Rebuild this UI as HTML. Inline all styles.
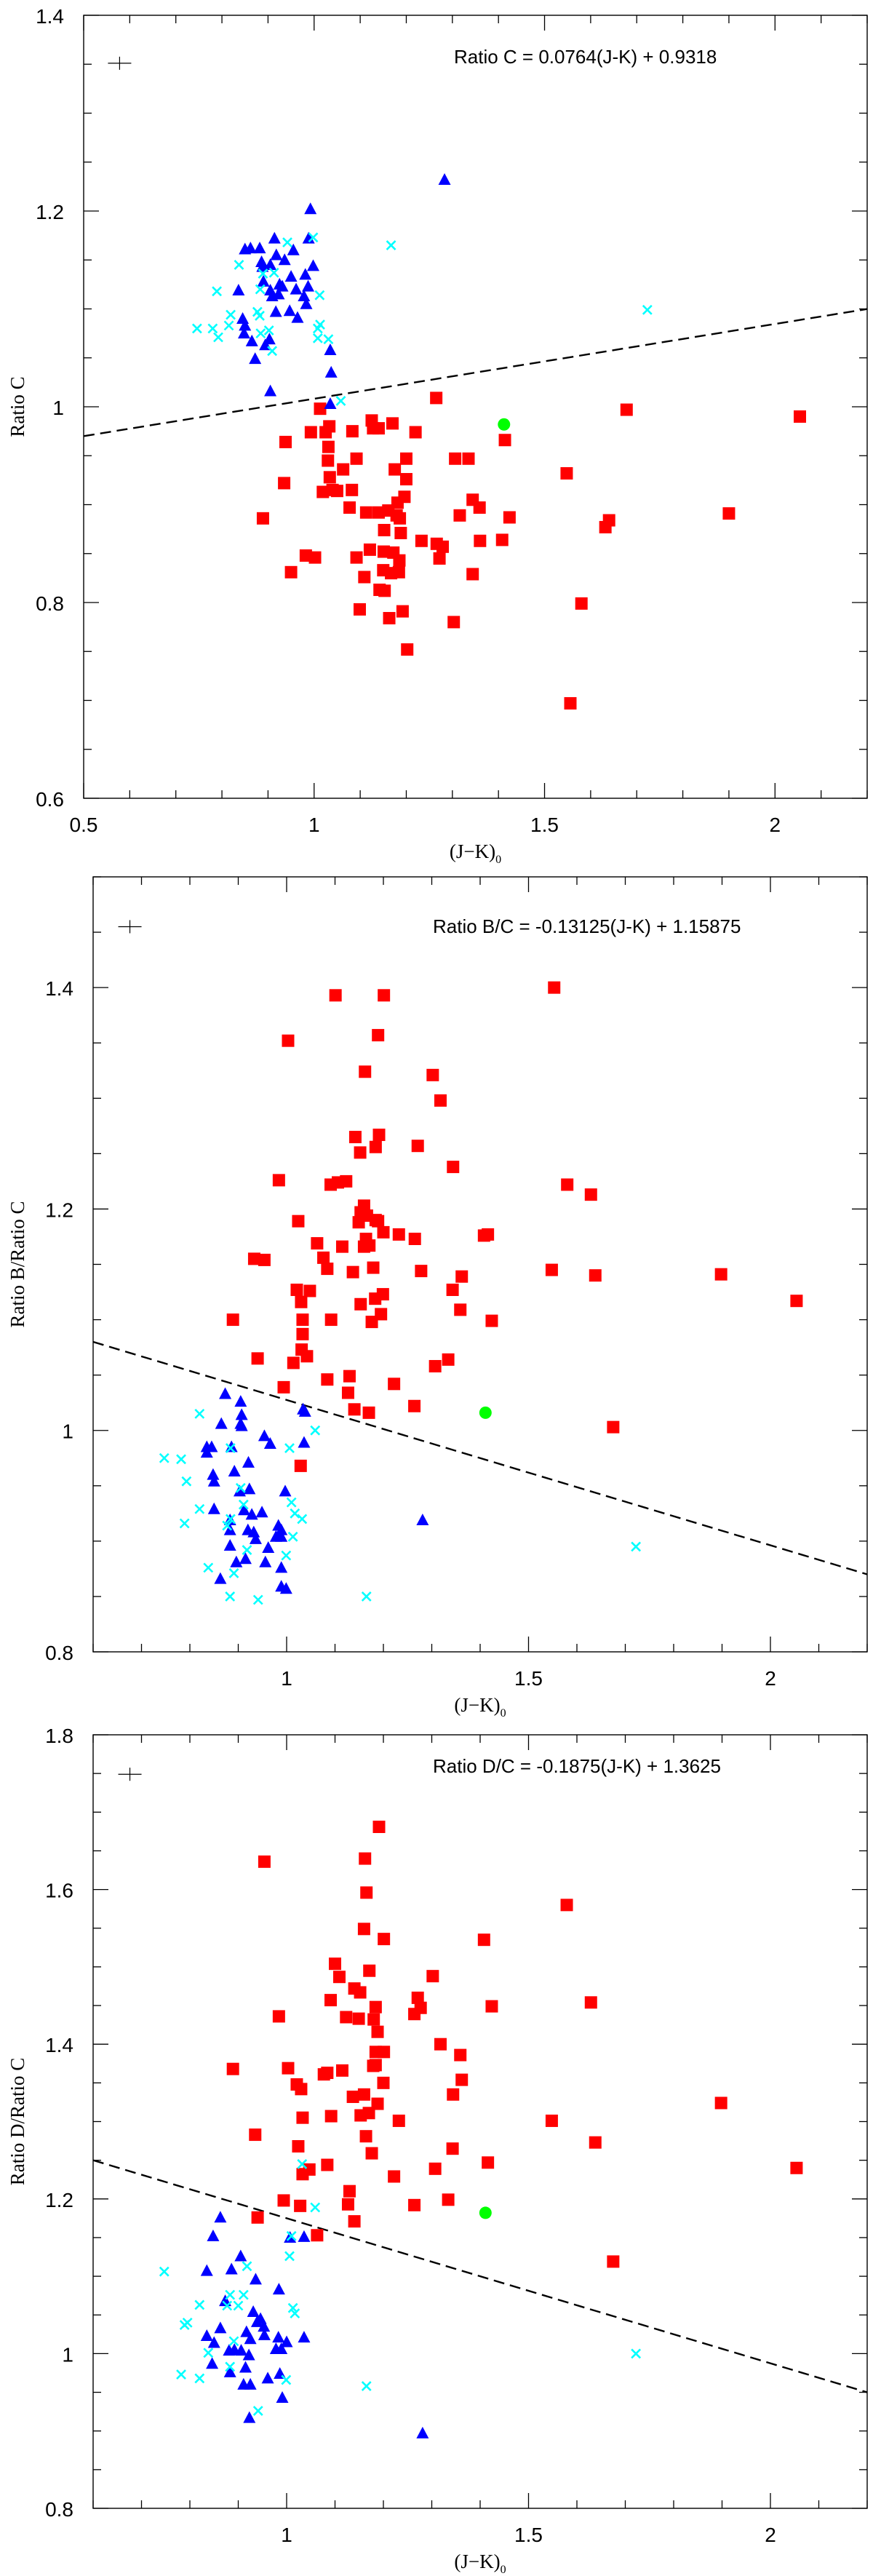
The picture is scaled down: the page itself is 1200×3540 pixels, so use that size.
<!DOCTYPE html>
<html><head><meta charset="utf-8"><style>
html,body{margin:0;padding:0;background:#fff}
svg{display:block}
</style></head><body>
<svg id="fig" width="1200" height="3540" viewBox="0 0 1200 3540" xmlns="http://www.w3.org/2000/svg"></svg>
<script>
// ---------- Panel 1: Ratio C ----------
const p1RedX=[1.013,1.265,1.678,2.054,0.993,1.033,1.025,1.083,1.125,1.128,1.140,1.170,1.220,1.414,0.938,1.031,1.030,1.092,1.200,1.306,1.335,1.063,1.175,1.548,0.935,1.034,1.200,1.019,1.040,1.050,1.082,1.196,1.181,1.344,1.359,1.077,1.113,1.140,1.161,1.179,1.186,1.316,1.424,1.640,1.632,1.900,0.889,1.188,1.152,1.233,1.266,1.279,1.360,1.408,1.121,1.151,1.172,1.185,0.982,1.002,1.092,1.272,0.950,1.109,1.150,1.167,1.184,1.344,1.142,1.153,1.580,1.099,1.192,1.163,1.303,1.202,1.556];
const p1RedY=[0.998,1.009,0.997,0.990,0.974,0.980,0.974,0.975,0.986,0.978,0.978,0.983,0.974,0.966,0.964,0.959,0.945,0.947,0.947,0.947,0.947,0.936,0.936,0.932,0.922,0.928,0.926,0.913,0.915,0.914,0.915,0.908,0.902,0.905,0.897,0.897,0.892,0.892,0.894,0.889,0.886,0.889,0.887,0.884,0.877,0.891,0.886,0.871,0.874,0.863,0.860,0.857,0.863,0.864,0.854,0.852,0.851,0.843,0.848,0.846,0.846,0.845,0.831,0.826,0.833,0.830,0.831,0.829,0.813,0.812,0.799,0.793,0.791,0.784,0.780,0.752,0.697];
const p1BlueX=[1.283,0.992,0.988,0.914,0.850,0.862,0.882,0.955,0.918,0.936,0.886,0.888,0.998,0.905,0.950,0.981,0.890,0.925,0.931,0.905,0.836,0.987,0.961,0.978,0.909,0.923,0.917,0.947,0.964,0.983,0.845,0.850,0.848,0.865,0.903,0.894,1.035,0.872,1.037,0.905,1.035];
const p1BlueY=[1.232,1.202,1.172,1.172,1.161,1.162,1.162,1.160,1.155,1.150,1.148,1.143,1.144,1.145,1.133,1.135,1.128,1.125,1.123,1.119,1.119,1.123,1.120,1.113,1.113,1.115,1.097,1.098,1.091,1.105,1.090,1.083,1.075,1.067,1.069,1.063,1.058,1.049,1.035,1.016,1.003];
const p1CyanX=[0.998,0.942,1.167,0.837,0.889,0.913,1.012,0.789,0.883,0.819,0.877,0.882,1.723,0.746,0.780,0.792,0.815,0.884,0.902,1.013,1.008,1.008,1.031,0.909,1.058];
const p1CyanY=[1.173,1.168,1.165,1.145,1.136,1.137,1.114,1.118,1.120,1.094,1.097,1.093,1.099,1.080,1.080,1.071,1.083,1.075,1.078,1.084,1.080,1.070,1.069,1.057,1.006];
const p1GreenX=[1.412];
const p1GreenY=[0.982];
const p1Fit=[0.0764,0.9318];
const p1YTicks=["0.6","0.8","1","1.2","1.4"];
const p1XTicks=["0.5","1","1.5","2"];

// ---------- Panel 2: Ratio B / Ratio C ----------
const p2RedX=[1.553,1.101,1.201,1.003,1.189,1.162,1.302,1.318,1.142,1.191,1.152,1.184,1.271,1.344,0.984,1.091,1.106,1.123,1.580,1.629,1.024,1.160,1.153,1.166,1.149,1.184,1.189,1.200,1.232,1.265,1.408,1.416,1.063,1.115,1.164,1.160,1.171,1.076,0.933,0.954,1.084,1.137,1.179,1.278,1.548,1.638,1.362,1.898,1.021,1.048,1.343,1.183,1.199,1.153,1.030,2.054,1.359,0.889,1.033,1.092,1.195,1.176,1.424,1.033,1.031,1.042,0.940,1.014,1.307,1.334,1.130,1.084,1.222,0.994,1.127,1.264,1.140,1.170,1.675,1.029];
const p2RedY=[1.400,1.393,1.393,1.352,1.357,1.324,1.321,1.298,1.265,1.267,1.251,1.256,1.257,1.238,1.226,1.222,1.224,1.225,1.222,1.213,1.189,1.203,1.197,1.194,1.188,1.190,1.189,1.179,1.177,1.173,1.176,1.177,1.169,1.166,1.173,1.166,1.167,1.156,1.155,1.154,1.146,1.143,1.147,1.144,1.145,1.140,1.139,1.141,1.127,1.126,1.127,1.119,1.123,1.114,1.116,1.117,1.109,1.100,1.100,1.100,1.105,1.098,1.099,1.087,1.073,1.067,1.065,1.061,1.058,1.064,1.049,1.046,1.042,1.039,1.034,1.022,1.019,1.016,1.003,0.968];
const p2BlueX=[0.873,0.905,1.034,1.038,0.907,0.905,0.907,0.865,0.954,0.966,1.036,0.835,0.845,0.835,0.886,0.921,0.892,0.848,0.850,0.923,0.903,0.997,0.850,0.949,0.912,0.928,0.983,0.989,0.883,0.883,0.920,0.932,0.936,0.978,0.989,0.883,0.962,0.915,0.896,0.956,0.989,0.863,0.989,0.999,1.281];
const p2BlueY=[1.033,1.026,1.019,1.017,1.014,1.006,1.004,1.006,0.995,0.988,0.989,0.985,0.985,0.980,0.985,0.971,0.963,0.960,0.954,0.947,0.945,0.945,0.929,0.926,0.928,0.924,0.914,0.910,0.919,0.910,0.910,0.908,0.902,0.904,0.904,0.896,0.894,0.884,0.881,0.881,0.876,0.866,0.859,0.857,0.919];
const p2CyanX=[0.820,1.059,0.884,1.006,0.747,0.782,0.793,0.905,1.010,0.911,0.820,1.017,1.032,0.789,0.877,0.884,1.013,0.918,1.722,0.999,0.838,0.891,0.883,0.941,1.165];
const p2CyanY=[1.015,1.000,0.984,0.984,0.975,0.974,0.954,0.948,0.935,0.933,0.929,0.925,0.920,0.916,0.914,0.920,0.904,0.892,0.895,0.887,0.876,0.871,0.850,0.847,0.850];
const p2GreenX=[1.411];
const p2GreenY=[1.016];
const p2Fit=[-0.13125,1.15875];
const p2YTicks=["0.8","1","1.2","1.4"];
const p2XTicks=["1","1.5","2"];

// ---------- Panel 3: Ratio D / Ratio C ----------
const p3RedX=[1.191,0.954,1.162,1.165,1.579,1.160,1.201,1.408,1.100,1.109,1.171,1.302,1.140,1.152,1.091,1.271,1.277,1.264,1.184,1.629,1.424,0.984,1.123,1.149,1.180,1.188,1.318,1.184,1.201,1.359,0.889,1.003,1.184,1.179,1.077,1.084,1.115,1.362,1.021,1.030,1.200,1.160,1.344,1.137,1.898,1.188,1.033,1.092,1.153,1.170,1.232,1.548,0.935,1.164,1.638,1.024,1.343,1.176,1.084,1.047,1.307,1.416,2.054,1.033,1.222,1.130,0.994,1.334,1.028,1.127,1.264,0.940,1.140,1.063,1.675];
const p3RedY=[1.681,1.636,1.640,1.596,1.580,1.549,1.536,1.535,1.504,1.487,1.495,1.488,1.472,1.467,1.457,1.460,1.447,1.439,1.448,1.454,1.449,1.436,1.435,1.433,1.432,1.416,1.400,1.390,1.390,1.386,1.368,1.369,1.373,1.372,1.361,1.363,1.366,1.354,1.348,1.342,1.350,1.335,1.335,1.332,1.324,1.323,1.305,1.307,1.308,1.311,1.301,1.301,1.283,1.281,1.273,1.268,1.265,1.259,1.244,1.238,1.239,1.247,1.240,1.232,1.229,1.210,1.198,1.199,1.191,1.193,1.192,1.176,1.171,1.153,1.119];
const p3BlueX=[0.863,0.848,1.007,1.036,0.905,0.835,0.886,0.936,0.984,0.873,0.931,0.946,0.953,0.939,0.863,0.917,0.925,0.835,0.850,0.954,0.983,1.000,1.036,0.978,0.989,0.881,0.892,0.906,0.922,0.846,0.915,0.883,0.986,0.961,0.911,0.925,0.991,0.923,1.281];
const p3BlueY=[1.176,1.152,1.150,1.151,1.126,1.107,1.109,1.096,1.083,1.068,1.054,1.045,1.035,1.041,1.033,1.028,1.019,1.023,1.014,1.024,1.021,1.015,1.021,1.006,1.006,1.004,1.005,1.004,0.998,0.987,0.982,0.976,0.974,0.968,0.960,0.960,0.943,0.917,0.897];
const p3CyanX=[1.032,1.059,1.010,1.006,0.918,0.747,0.883,0.911,0.877,0.900,0.820,1.013,1.017,0.789,0.795,0.891,0.838,0.883,1.722,0.782,0.820,0.999,1.165,0.941];
const p3CyanY=[1.245,1.189,1.152,1.126,1.113,1.106,1.076,1.076,1.062,1.062,1.063,1.059,1.052,1.037,1.040,1.016,1.001,0.983,1.000,0.973,0.968,0.966,0.958,0.926];
const p3GreenX=[1.411];
const p3GreenY=[1.182];
const p3Fit=[-0.1875,1.3625];
const p3YTicks=["0.8","1","1.2","1.4","1.6","1.8"];
const p3XTicks=["1","1.5","2"];

const NS="http://www.w3.org/2000/svg";
const svg=document.getElementById('fig');
function mk(tag,attrs,parent){const e=document.createElementNS(NS,tag);for(const k in attrs)e.setAttribute(k,attrs[k]);(parent||svg).appendChild(e);return e;}

function panel(cfg){
  const g=mk('g',{});
  
  
  const L=cfg.L,R=cfg.R,T=cfg.T,B=cfg.B;
  const sx=v=>L+(v-cfg.x0)/(cfg.x1-cfg.x0)*(R-L);
  const sy=v=>B-(v-cfg.y0)/(cfg.y1-cfg.y0)*(B-T);
  const frame=mk('rect',{x:L,y:T,width:R-L,height:B-T,fill:'none',stroke:'#000','stroke-width':1.4},g);
  
  
  const tg=mk('g',{stroke:'#000','stroke-width':1.3},g);
  
  
  const eps=1e-6;
  for(let i=Math.ceil(cfg.x0/0.1-eps);i*0.1<=cfg.x1+eps;i++){
    const v=i*0.1, x=sx(v), major=Math.abs(v/0.5-Math.round(v/0.5))<eps, len=major?21:11;
    mk('line',{x1:x,y1:B,x2:x,y2:B-len},tg);mk('line',{x1:x,y1:T,x2:x,y2:T+len},tg);
  }
  for(let i=Math.ceil(cfg.y0/0.05-eps);i*0.05<=cfg.y1+eps;i++){
    const v=i*0.05, y=sy(v), major=Math.abs(v/0.2-Math.round(v/0.2))<eps, len=major?21:11;
    mk('line',{x1:L,y1:y,x2:L+len,y2:y},tg);mk('line',{x1:R,y1:y,x2:R-len,y2:y},tg);
  }
  cfg.yt.forEach(s=>{const t=mk('text',{x:L-27,y:sy(parseFloat(s))+11,'text-anchor':'end','font-family':'Liberation Sans, sans-serif','font-size':28,fill:'#000'},g);t.textContent=s;
    });
  cfg.xt.forEach(s=>{const t=mk('text',{x:sx(parseFloat(s)),y:B+46,'text-anchor':'middle','font-family':'Liberation Sans, sans-serif','font-size':28,fill:'#000'},g);t.textContent=s;
    });
  const xt=mk('text',{x:(L+R)/2,y:B+82,'text-anchor':'middle','font-family':'Liberation Serif, serif','font-size':27,fill:'#000'},g);
  xt.innerHTML='(J−K)<tspan font-size="16" dy="7">0</tspan>';
  
  const yt=mk('text',{x:0,y:0,'text-anchor':'middle','font-family':'Liberation Serif, serif','font-size':27,fill:'#000',transform:`translate(33,${(T+B)/2}) rotate(-90)`},g);
  yt.textContent=cfg.ytitle;
  
  const eq=mk('text',{x:cfg.eqX,y:cfg.eqY,'font-family':'Liberation Sans, sans-serif','font-size':26,fill:'#000'},g);
  eq.textContent=cfg.eq;
  
  const ex=sx(cfg.err[0]),ey=sy(cfg.err[1]);
  const eg=mk('g',{stroke:'#000','stroke-width':1.2},g);
  
  mk('line',{x1:ex-16,y1:ey,x2:ex+16,y2:ey},eg);mk('line',{x1:ex,y1:ey-9,x2:ex,y2:ey+9},eg);
  const cid='clip'+cfg.name;
  const cp=mk('clipPath',{id:cid},g);mk('rect',{x:L,y:T,width:R-L,height:B-T},cp);
  const dg=mk('g',{'clip-path':`url(#${cid})`},g);
  const fl=mk('line',{x1:sx(cfg.x0),y1:sy(cfg.fit[0]*cfg.x0+cfg.fit[1]),x2:sx(cfg.x1),y2:sy(cfg.fit[0]*cfg.x1+cfg.fit[1]),stroke:'#000','stroke-width':2.4,'stroke-dasharray':'15 8'},dg);
  
  cfg.rx.forEach((v,i)=>{const r=mk('rect',{x:sx(v)-8.5,y:sy(cfg.ry[i])-8.5,width:17,height:17,fill:'#f00'},dg);
    });
  cfg.bx.forEach((v,i)=>{const x=sx(v),y=sy(cfg.by[i]);const p=mk('polygon',{points:`${x},${y-9} ${x-8.5},${y+7} ${x+8.5},${y+7}`,fill:'#00f'},dg);
    });
  cfg.cx.forEach((v,i)=>{const x=sx(v),y=sy(cfg.cy[i]);const c=mk('path',{d:`M${x-6},${y-6}L${x+6},${y+6}M${x-6},${y+6}L${x+6},${y-6}`,stroke:'#0ff','stroke-width':2.6,fill:'none'},dg);
    });
  cfg.gx.forEach((v,i)=>{const c=mk('circle',{cx:sx(v),cy:sy(cfg.gy[i]),r:8.5,fill:'#0f0'},dg);
    });
}

panel({name:'panel-ratio-c',L:115,R:1192,T:21,B:1097,x0:0.5,x1:2.2,y0:0.6,y1:1.4,yt:p1YTicks,xt:p1XTicks,
  ytitle:'Ratio C',eq:'Ratio C = 0.0764(J-K) + 0.9318',eqX:624,eqY:87,err:[0.578,1.351],fit:p1Fit,
  rx:p1RedX,ry:p1RedY,bx:p1BlueX,by:p1BlueY,cx:p1CyanX,cy:p1CyanY,gx:p1GreenX,gy:p1GreenY});
panel({name:'panel-ratio-b-c',L:128,R:1192,T:1205,B:2270,x0:0.6,x1:2.2,y0:0.8,y1:1.5,yt:p2YTicks,xt:p2XTicks,
  ytitle:'Ratio B/Ratio C',eq:'Ratio B/C = -0.13125(J-K) + 1.15875',eqX:595,eqY:1282,err:[0.676,1.455],fit:p2Fit,
  rx:p2RedX,ry:p2RedY,bx:p2BlueX,by:p2BlueY,cx:p2CyanX,cy:p2CyanY,gx:p2GreenX,gy:p2GreenY});
panel({name:'panel-ratio-d-c',L:128,R:1192,T:2384,B:3447,x0:0.6,x1:2.2,y0:0.8,y1:1.8,yt:p3YTicks,xt:p3XTicks,
  ytitle:'Ratio D/Ratio C',eq:'Ratio D/C = -0.1875(J-K) + 1.3625',eqX:595,eqY:2436,err:[0.676,1.749],fit:p3Fit,
  rx:p3RedX,ry:p3RedY,bx:p3BlueX,by:p3BlueY,cx:p3CyanX,cy:p3CyanY,gx:p3GreenX,gy:p3GreenY});
</script>
</body></html>
